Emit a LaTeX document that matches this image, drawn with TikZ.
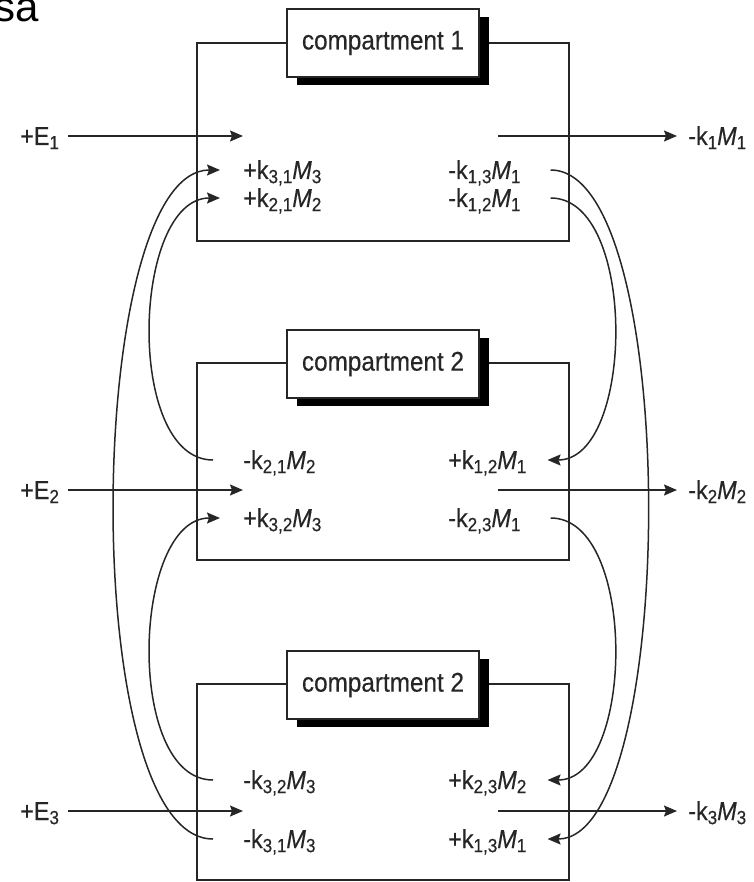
\documentclass[tikz,border=0pt]{standalone}
\usepackage{fontspec}
\setmainfont{Liberation Sans}
\newfontfamily\narrowsans[FakeStretch=0.9, FakeBold=0.4]{Liberation Sans}
\usetikzlibrary{arrows.meta,shadows}
\definecolor{ink}{HTML}{262626}
\newcommand{\lowered}[1]{\raisebox{-0.3ex}{\fontsize{19}{21}\selectfont #1}}
\newcommand{\rate}[3]{#1k\lowered{#2}\textit{M}\lowered{#3}}
\tikzset{
	flow/.style={draw=ink, line width=1.5pt, -{Stealth[length=13pt,width=11pt,inset=2pt]}},
	compbox/.style={draw=ink, line width=1.8pt},
	title/.style={draw=ink, line width=1.8pt, fill=white, minimum width=192pt, minimum height=68pt,
		font=\narrowsans\fontsize{27}{30}\selectfont, text=ink,
		drop shadow={shadow xshift=10pt, shadow yshift=-8pt, fill=black, opacity=1}},
	lbl/.style={inner sep=0pt, anchor=west, text height=18pt, text depth=0pt,
		font=\narrowsans\fontsize{26}{29}\selectfont, text=ink},
}
\begin{document}
\begin{tikzpicture}[x=1pt, y=-1pt]
	\useasboundingbox (0,0) rectangle (753,882);
	% cut-off word at the top
	\node[inner sep=0pt, anchor=base east, font=\fontsize{42}{46}\selectfont] (sa) at (39,22) {sa};

	% compartments
	\draw[compbox] (197,43) rectangle (569,241);
	\draw[compbox] (197,363) rectangle (569,560);
	\draw[compbox] (197,684) rectangle (569,880);
	\node[title] (t1) at (383,43) {compartment 1};
	\node[title] (t2) at (383,364) {compartment 2};
	\node[title] (t3) at (383,685) {compartment 2};

	% rates in compartment 1
	\node[lbl] (p31) at (243,170) {\rate{+}{3,1}{3}};
	\node[lbl] (p21) at (243,198) {\rate{+}{2,1}{2}};
	\node[lbl] (m13) at (448,170) {\rate{-}{1,3}{1}};
	\node[lbl] (m12) at (448,198) {\rate{-}{1,2}{1}};
	% rates in compartment 2
	\node[lbl] (m21) at (243,460) {\rate{-}{2,1}{2}};
	\node[lbl] (p32) at (243,518) {\rate{+}{3,2}{3}};
	\node[lbl] (p12) at (448,460) {\rate{+}{1,2}{1}};
	\node[lbl] (m23) at (448,518) {\rate{-}{2,3}{1}};
	% rates in compartment 3
	\node[lbl] (m32) at (243,780) {\rate{-}{3,2}{3}};
	\node[lbl] (m31) at (243,839) {\rate{-}{3,1}{3}};
	\node[lbl] (p23) at (448,780) {\rate{+}{2,3}{2}};
	\node[lbl] (p13) at (448,839) {\rate{+}{1,3}{1}};

	% inputs and outputs
	\node[lbl] (e1) at (20,136) {+E\lowered{1}};
	\node[lbl] (e2) at (20,490) {+E\lowered{2}};
	\node[lbl] (e3) at (20,811) {+E\lowered{3}};
	\coordinate (o1) at (498,136);
	\coordinate (o2) at (498,490);
	\coordinate (o3) at (498,811);
	\node[lbl] (x1) at (688,136) {\rate{-}{1}{1}};
	\node[lbl] (x2) at (688,490) {\rate{-}{2}{2}};
	\node[lbl] (x3) at (688,811) {\rate{-}{3}{3}};
	\foreach \i in {1,2,3} {
		\draw[flow, shorten <=9pt] (e\i.east) -- (e\i.east -| p31.west);
		\draw[flow, shorten >=11pt] (o\i) -- (x\i.west);
	}

	% exchanges on the left
	\draw[flow] ([xshift=-30pt]m31.west) to[out=180, in=180, looseness=0.52] ([xshift=-23pt]p31.west);
	\draw[flow] ([xshift=-30pt]m21.west) to[out=180, in=180, looseness=0.86] ([xshift=-23pt]p21.west);
	\draw[flow] ([xshift=-30pt]m32.west) to[out=180, in=180, looseness=0.86] ([xshift=-23pt]p32.west);
	% exchanges on the right
	\draw[flow] ([xshift=30pt]m13.east) to[out=0, in=0, looseness=0.5] ([xshift=21pt]p13.east);
	\draw[flow] ([xshift=30pt]m12.east) to[out=0, in=0, looseness=0.85] ([xshift=21pt]p12.east);
	\draw[flow] ([xshift=30pt]m23.east) to[out=0, in=0, looseness=0.85] ([xshift=21pt]p23.east);
\end{tikzpicture}
\end{document}
